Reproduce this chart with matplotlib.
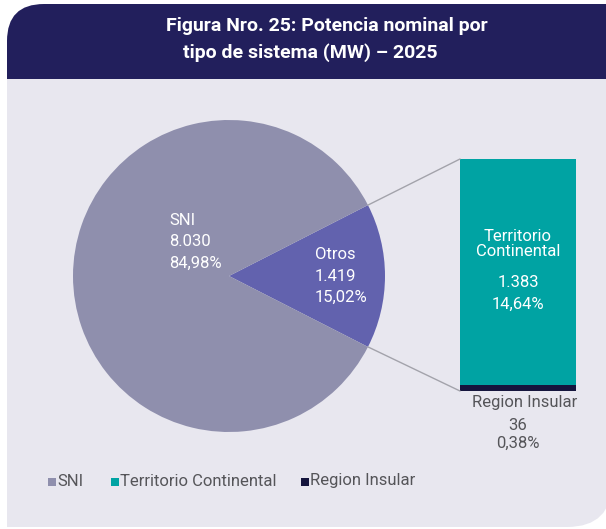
import matplotlib
matplotlib.use("Agg")
import matplotlib.pyplot as plt
from matplotlib.patches import FancyBboxPatch, Rectangle, ConnectionPatch
import numpy as np

plt.rcParams['font.family'] = ['Roboto', 'DejaVu Sans']

# datos (MW)
pie_labels = ["Otros", "SNI"]
pie_values = [1419, 8030]
pie_pct = ["15,02%", "84,98%"]
pie_txt = ["1.419", "8.030"]

bar_labels = ["Region Insular", "Territorio Continental"]
bar_values = [36, 1383]
bar_pct = ["0,38%", "14,64%"]
bar_txt = ["36", "1.383"]

c_sni = "#8f8fad"
c_otros = "#6262ae"
c_cont = "#00a3a3"
c_ins = "#15153d"
c_head = "#221f5c"
c_bg = "#e8e7ef"
c_txt = "#555559"

W, H = 606, 529
fig = plt.figure(figsize=(W / 100, H / 100), dpi=100)

# fondo en pixeles
bg = fig.add_axes([0, 0, 1, 1])
bg.set_xlim(0, W)
bg.set_ylim(H, 0)
bg.axis("off")
# cuerpo gris, solo esquina inferior derecha redondeada
bg.add_patch(FancyBboxPatch((7, 4), 605, 523, boxstyle="round,pad=0,rounding_size=45",
                            fc=c_bg, ec="none"))
bg.add_patch(Rectangle((7, 300), 100, 227, fc=c_bg, ec="none"))
# cabecera, solo esquina superior izquierda redondeada
bg.add_patch(FancyBboxPatch((7, 4), 700, 75, boxstyle="round,pad=0,rounding_size=37",
                            fc=c_head, ec="none"))
bg.add_patch(Rectangle((7, 40), 100, 39, fc=c_head, ec="none"))
bg.text(327, 26, "Figura Nro. 25: Potencia nominal por", color="white", fontsize=14,
        fontweight="bold", ha="center", va="center")
bg.text(310, 53, "tipo de sistema (MW) \u2013 2025", color="white", fontsize=14,
        fontweight="bold", ha="center", va="center")

# pastel
cx, cy, r = 229, 276, 156
pax = fig.add_axes([(cx - r) / W, 1 - (cy + r) / H, 2 * r / W, 2 * r / H])
half = 360 * pie_values[0] / sum(pie_values) / 2
wedges, _ = pax.pie(pie_values, colors=[c_otros, c_sni], startangle=-half,
                    radius=1, wedgeprops=dict(linewidth=0))
pax.set_xlim(-1, 1)
pax.set_ylim(-1, 1)
pax.set_aspect("auto")
pax.axis("off")

pax.text(-0.385, 0.22, f"{pie_labels[1]}\n{pie_txt[1]}\n{pie_pct[1]}", color="white",
         fontsize=12, ha="left", va="center", linespacing=1.55)
pax.text(0.55, 0.0, f"{pie_labels[0]}\n{pie_txt[0]}\n{pie_pct[0]}", color="white",
         fontsize=12, ha="left", va="center", linespacing=1.55)

# barra
bx0, bx1, by0, by1 = 460, 576, 159, 391
bax = fig.add_axes([bx0 / W, 1 - by1 / H, (bx1 - bx0) / W, (by1 - by0) / H])
bax.bar(0, bar_values[0], width=1, bottom=0, color=c_ins)
bax.bar(0, bar_values[1], width=1, bottom=bar_values[0], color=c_cont)
bax.set_xlim(-0.5, 0.5)
bax.set_ylim(0, sum(bar_values))
bax.axis("off")
bax.text(0, bar_values[0] + bar_values[1] * 0.624, "Territorio\nContinental", color="white",
         fontsize=12, ha="center", va="center", linespacing=1.0)
bax.text(0, bar_values[0] + bar_values[1] * 0.407, f"{bar_txt[1]}\n{bar_pct[1]}", color="white",
         fontsize=12, ha="center", va="center", linespacing=1.55)

# etiqueta de Region Insular, bajo la barra
bg.text(525, 402, bar_labels[0], color=c_txt, fontsize=12, ha="center", va="center")
bg.text(518, 434, f"{bar_txt[0]}\n{bar_pct[0]}", color=c_txt, fontsize=12,
        ha="center", va="center", linespacing=1.25)

# lineas de conexion
a = np.deg2rad(half)
for sgn, yb in [(1, sum(bar_values)), (-1, 0)]:
    con = ConnectionPatch(xyA=(np.cos(a), sgn * np.sin(a)), coordsA=pax.transData,
                          xyB=(-0.5, yb), coordsB=bax.transData,
                          color="#a3a3ab", lw=1)
    fig.add_artist(con)

# leyenda
leg = [("SNI", c_sni, 48), ("Territorio Continental", c_cont, 111), ("Region Insular", c_ins, 301)]
for name, col, x in leg:
    bg.add_patch(Rectangle((x, 478), 8, 8, fc=col, ec="none"))
    bg.text(x + 9, 481, name, color=c_txt, fontsize=12, ha="left", va="center")

fig.savefig("out.png", dpi=100)
